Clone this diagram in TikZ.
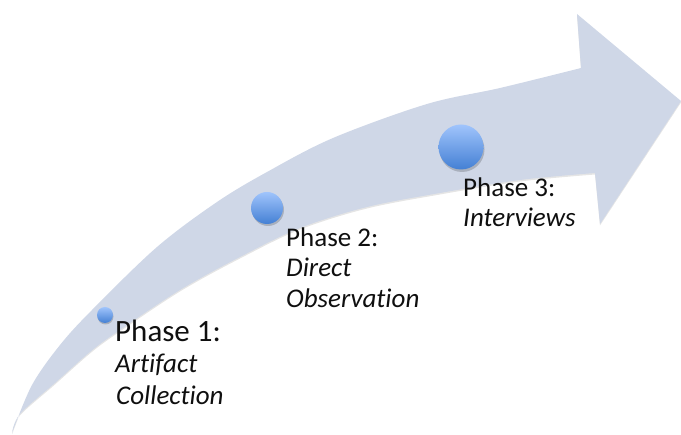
\documentclass[tikz,border=0pt]{standalone}
\usepackage{fontspec}
\setmainfont{Carlito}[Ligatures=NoCommon]
\begin{document}
\begin{tikzpicture}[x=1pt,y=-1pt,
  arrowfill/.style={fill={rgb,255:red,207;green,215;blue,231}},
  ball/.style={circle, inner sep=0pt, top color={rgb,255:red,160;green,196;blue,252},
               bottom color={rgb,255:red,68;green,128;blue,212}},
  ballshadow/.style={circle, inner sep=0pt, fill=black, opacity=0.18},
  phase/.style={anchor=base west, inner sep=0pt, text={rgb,255:red,15;green,15;blue,15},
                font=\fontsize{27}{30}\selectfont},
  detail/.style={phase, font=\fontsize{27}{30}\selectfont\itshape}]
\useasboundingbox (0,0) rectangle (681,435);

% curved arrow body: upper edge, head, lower edge back to the tail
\def\arrowpath{
  plot[smooth, tension=0.55] coordinates {(12,433) (32,385) (60,345) (92,310) (157,247) (217,202)
        (267,172) (333,138) (427,104) (500,88) (581,68)}
  -- (577,14) -- (681,101) -- (600,224) -- (595,173)
  -- plot[smooth, tension=0.55] coordinates {(595,173) (520,180) (440,193) (367,207) (300,228)
        (240,257) (180,290) (117,332) (90,352) (55,383) (20,414) (12,433)}
  -- cycle}
\fill[black, opacity=0.10, yshift=-1.5pt] \arrowpath;
\fill[arrowfill] \arrowpath;

% phase markers
\node[ballshadow, minimum size=16pt] at (105.5,316.5) {};
\node[ball, minimum size=16pt] (p1) at (105,315) {};
\node[ballshadow, minimum size=32pt] at (268,210) {};
\node[ball, minimum size=32pt] (p2) at (267,208) {};
\node[ballshadow, minimum size=45pt] at (462,149.5) {};
\node[ball, minimum size=45pt] (p3) at (461,147) {};

% labels
\node[phase, font=\fontsize{31}{34}\selectfont] (t1) at (115,342) {Phase 1:};
\node[detail] (t1a) at (115,373) {Artifact};
\node[detail] (t1b) at (116,405) {Collection};

\node[phase] (t2) at (286,247) {Phase 2:};
\node[detail] (t2a) at (286,277) {Direct};
\node[detail] (t2b) at (286,308) {Observation};

\node[phase] (t3) at (463,197) {Phase 3:};
\node[detail] (t3a) at (463,227) {Interviews};
\end{tikzpicture}
\end{document}
